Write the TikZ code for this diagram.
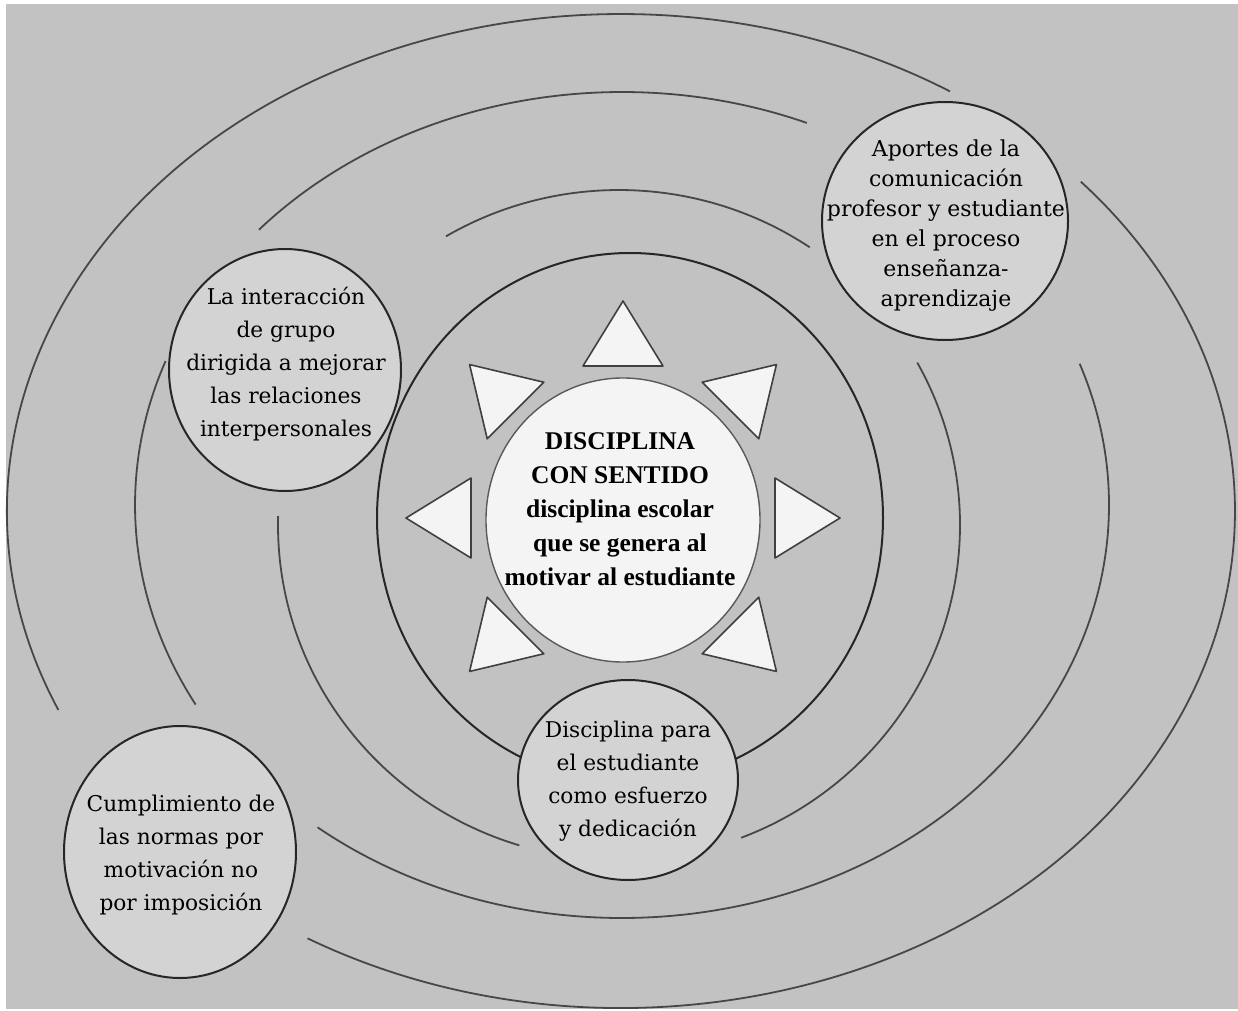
\documentclass[tikz,border=0pt]{standalone}
\usepackage{fontspec}
\setmainfont{DejaVu Serif}
\newfontfamily\timesfont{Liberation Serif}
\usepackage{tikz}

\definecolor{bggray}{HTML}{C2C2C2}
\definecolor{bubblegray}{HTML}{D3D3D3}
\definecolor{linegray}{HTML}{474747}
\definecolor{paper}{HTML}{F4F4F4}

\begin{document}
\begin{tikzpicture}[x=0.5pt, y=-0.5pt,
		arcline/.style={draw=linegray, line width=0.9pt},
		bubble/.style={draw=black!85, fill=bubblegray, line width=1pt},
		tri/.style={draw=black!75, fill=paper, line width=0.8pt, line join=round},
		txt/.style={align=center, inner sep=0pt, font=\fontsize{10.85pt}{16.5pt}\selectfont}]
		\useasboundingbox[fill=white] (0,0) rectangle (1238,1011);
		\fill[bggray] (6,4) rectangle (1238,1009);
		
		% outer rings, broken into arcs
		\draw[arcline] (621,511) ++(156.4:614 and 497) arc[start angle=156.4, end angle=302.4, x radius=614, y radius=497];
		\draw[arcline] (621,511) ++(120.7:614 and 497) arc[start angle=120.7, end angle=-41.5, x radius=614, y radius=497];
		\draw[arcline] (622,505) ++(221.8:487 and 413) arc[start angle=221.8, end angle=292.3, x radius=487, y radius=413];
		\draw[arcline] (622,505) ++(151.1:487 and 413) arc[start angle=151.1, end angle=200.4, x radius=487, y radius=413];
		\draw[arcline] (622,505) ++(128.7:487 and 413) arc[start angle=128.7, end angle=-20, x radius=487, y radius=413];
		\draw[arcline] (619,525) ++(239.5:341 and 335) arc[start angle=239.5, end angle=304, x radius=341, y radius=335];
		\draw[arcline] (619,525) ++(69:341 and 335) arc[start angle=69, end angle=-29, x radius=341, y radius=335];
		\draw[arcline] (619,525) ++(107:341 and 335) arc[start angle=107, end angle=181.5, x radius=341, y radius=335];
		\draw[draw=black!85, line width=1pt] (630,518) ellipse [x radius=253, y radius=265];
		
		% the four bubbles
		\draw[bubble] (945,221) ellipse [x radius=123, y radius=119];
		\draw[bubble] (285,370) ellipse [x radius=116, y radius=121];
		\draw[bubble] (628,780) ellipse [x radius=110, y radius=100];
		\draw[bubble] (180,852) ellipse [x radius=116, y radius=126];
		
		% star, no ray at the bottom
		\foreach \a in {0,45,90,135,225,270,315}
			\draw[tri, shift={(623,518)}, rotate=\a] (0,-217) -- (-40,-152) -- (40,-152) -- cycle;
		\draw[draw=black!65, fill=paper, line width=0.7pt] (623,520) ellipse [x radius=137, y radius=142];
		
		\node[align=center, inner sep=0pt, font=\timesfont\bfseries\fontsize{12.75pt}{17pt}\selectfont] (core) at (620,509)
			{DISCIPLINA\\CON SENTIDO\\disciplina escolar\\que se genera al\\motivar al estudiante};
		\node[txt, font=\fontsize{11pt}{15pt}\selectfont] (aportes) at (946,226)
			{Aportes de la\\comunicación\\profesor y estudiante\\en el proceso\\enseñanza-\\aprendizaje};
		\node[txt] (grupo) at (286,364)
			{La interacción\\de grupo\\dirigida a mejorar\\las relaciones\\interpersonales};
		\node[txt] (esfuerzo) at (628,781)
			{Disciplina para\\el estudiante\\como esfuerzo\\y dedicación};
		\node[txt] (normas) at (181,855)
			{Cumplimiento de\\las normas por\\motivación no\\por imposición};
\end{tikzpicture}
\end{document}
